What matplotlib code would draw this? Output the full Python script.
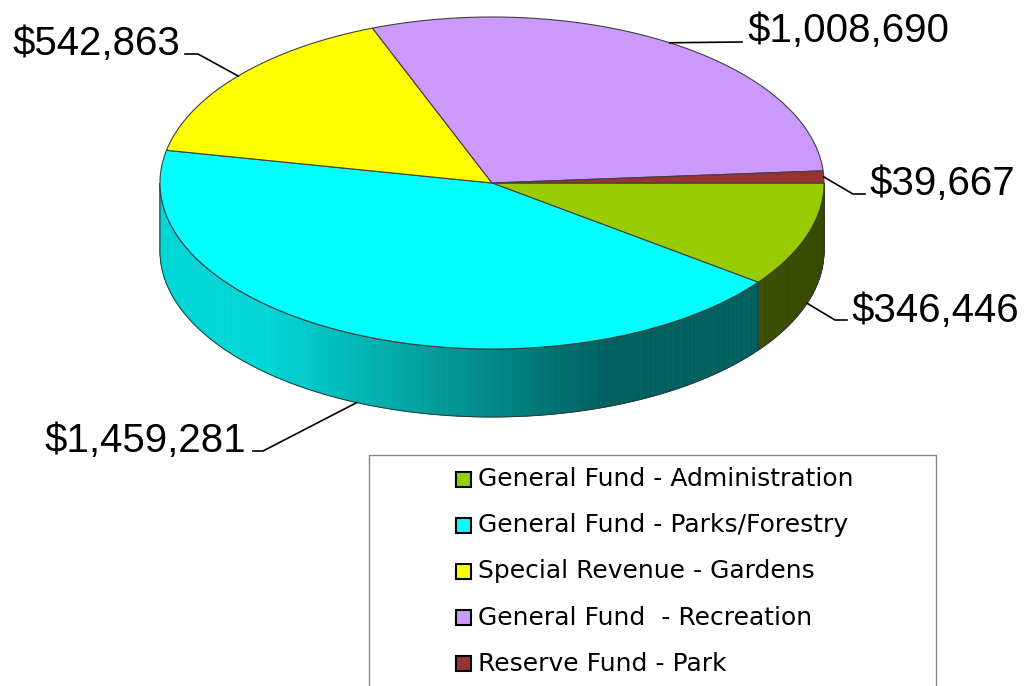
import matplotlib.pyplot as plt
import numpy as np
from matplotlib.patches import Polygon, Rectangle
from matplotlib.collections import PolyCollection

labels = ['General Fund - Administration', 'General Fund - Parks/Forestry',
          'Special Revenue - Gardens', 'General Fund  - Recreation',
          'Reserve Fund - Park']
values = [346446, 1459281, 542863, 1008690, 39667]
colors = ['#99cc00', '#00ffff', '#ffff00', '#cc99ff', '#993333']

# label layout: (elbow, end of leader, text x, text baseline, ha)
label_pos = [
    ((835, 320), (847, 320), 851, 322, 'left'),
    ((263, 451), (253, 451), 246, 452, 'right'),
    ((198, 54), (185, 54), 180, 55, 'right'),
    ((742, 42), (742, 42), 747, 42, 'left'),
    ((853, 194), (865, 194), 869, 195, 'left'),
]

W, H = 1025, 686
cx, cy, rx, ry, depth = 492, 183, 332, 166, 68


def pt(a):
    r = np.radians(a)
    return cx + rx * np.cos(r), cy + ry * np.sin(r)


def shade(x):
    # side brightness by horizontal position
    return np.interp(x, [266, 605], [0.84, 0.37])


fig = plt.figure(figsize=(W / 100, H / 100), dpi=100)
ax = fig.add_axes([0, 0, 1, 1])
ax.set_xlim(0, W)
ax.set_ylim(H, 0)
ax.axis('off')

total = sum(values)
bounds = np.concatenate([[0], np.cumsum(values) / total * 360])

# sides (front half only)
for i, c in enumerate(colors):
    a0, a1 = max(bounds[i], 0), min(bounds[i + 1], 180)
    if a1 <= a0:
        continue
    base = np.array(plt.matplotlib.colors.to_rgb(c))
    steps = np.linspace(a0, a1, max(int((a1 - a0) * 3), 2))
    quads, fcs = [], []
    for s0, s1 in zip(steps[:-1], steps[1:]):
        p0, p1 = pt(s0), pt(s1)
        quads.append([p0, p1, (p1[0], p1[1] + depth), (p0[0], p0[1] + depth)])
        fcs.append(base * shade((p0[0] + p1[0]) / 2))
    ax.add_collection(PolyCollection(quads, facecolors=fcs, edgecolors=fcs, linewidths=0.5))
    arc = [pt(a) for a in steps]
    outline = arc + [(x, y + depth) for x, y in arc[::-1]]
    ax.add_patch(Polygon(outline, closed=True, fill=False, edgecolor='#2a3a3a', lw=0.7))

# top faces
for i, c in enumerate(colors):
    arc = [pt(a) for a in np.linspace(bounds[i], bounds[i + 1], 200)]
    ax.add_patch(Polygon([(cx, cy)] + arc, closed=True, facecolor=c,
                         edgecolor='#404040', lw=0.8))

# data labels with leader lines
for i, v in enumerate(values):
    mid = (bounds[i] + bounds[i + 1]) / 2
    ax_x, ax_y = pt(mid)
    if np.sin(np.radians(mid)) > 0:
        ax_y += depth
    elbow, end, tx, ty, ha = label_pos[i]
    ax.plot([ax_x, elbow[0], end[0]], [ax_y, elbow[1], end[1]], color='black', lw=1.2)
    ax.text(tx, ty, f'${v:,}', ha=ha, va='baseline', fontsize=29,
            family='Liberation Sans', color='black')

# legend
ax.add_patch(Rectangle((369, 455), 567, 260, fill=False, edgecolor='#888888', lw=1))
for i, (lab, c) in enumerate(zip(labels, colors)):
    y = 479 + i * 46.2
    ax.add_patch(Rectangle((456, y - 7.5), 15, 15, facecolor=c, edgecolor='black', lw=1.5))
    ax.text(478, y, lab, ha='left', va='center', fontsize=18,
            family='DejaVu Sans', color='black')

fig.savefig('out.png', dpi=100)
